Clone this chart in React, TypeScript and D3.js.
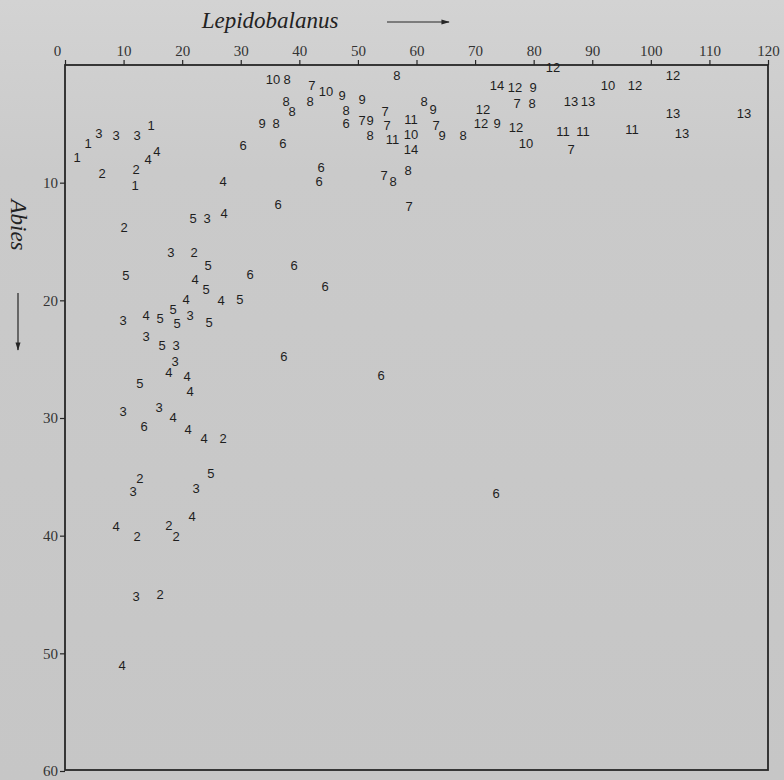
import React, { useEffect, useRef } from "react";
import * as d3 from "d3";

// [Lepidobalanus, Abies] for each sample, grouped by the printed label
const group1 = [[2.05, 7.9], [3.93, 6.71], [14.68, 5.18], [11.95, 10.2]];
const group2 = [[6.32, 9.18], [12.12, 8.92], [10.07, 13.85], [22.02, 15.97], [26.97, 31.78], [12.8, 35.17], [12.29, 40.1], [17.75, 39.17], [18.95, 40.1], [16.22, 45.03]];
const group3 = [[5.8, 5.78], [8.71, 6.03], [12.29, 5.95], [24.24, 13.08], [18.09, 15.97], [21.34, 21.33], [9.9, 21.75], [13.83, 23.11], [18.95, 23.87], [18.78, 25.23], [9.9, 29.48], [16.05, 29.14], [11.61, 36.28], [22.36, 36.02], [12.12, 45.2]];
const group4 = [[15.7, 7.39], [14.17, 7.99], [26.97, 9.94], [27.14, 12.66], [22.19, 18.27], [20.66, 19.97], [26.63, 20.05], [13.83, 21.33], [17.75, 26.17], [20.83, 26.51], [21.34, 27.78], [18.44, 29.99], [21.0, 31.01], [23.73, 31.78], [21.68, 38.4], [8.71, 39.25], [9.73, 51.06]];
const group5 = [[21.85, 13.08], [24.41, 17.08], [10.41, 17.93], [24.07, 19.12], [29.87, 19.97], [18.44, 20.82], [16.22, 21.58], [19.12, 22.0], [24.58, 21.92], [16.56, 23.87], [12.8, 27.1], [24.92, 34.75]];
const group6 = [[30.39, 6.8], [37.2, 6.71], [43.7, 8.75], [43.36, 9.94], [47.97, 5.0], [36.36, 11.89], [31.58, 17.84], [39.09, 17.08], [44.38, 18.86], [37.38, 24.81], [53.94, 26.42], [13.49, 30.76], [73.57, 36.45]];
const group7 = [[54.46, 9.35], [42.16, 1.78], [50.7, 4.72], [54.63, 3.95], [54.97, 5.1], [63.33, 5.1], [77.16, 3.31], [86.38, 7.14], [58.72, 12.06]];
const group8 = [[55.99, 9.94], [58.55, 9.0], [37.9, 1.19], [41.82, 3.14], [37.73, 3.14], [38.75, 3.99], [47.97, 3.85], [36.02, 4.93], [52.07, 6.0], [56.67, 0.93], [61.28, 3.06], [67.94, 6.03], [79.72, 3.31]];
const group9 = [[47.29, 2.63], [50.7, 2.89], [33.63, 4.93], [52.07, 4.72], [62.82, 3.82], [64.36, 6.03], [73.75, 4.93], [79.89, 1.95]];
const group10 = [[35.5, 1.19], [44.55, 2.21], [59.07, 5.9], [78.7, 6.71], [92.69, 1.78]];
const group11 = [[55.9, 6.3], [59.07, 4.62], [85.01, 5.61], [88.43, 5.61], [96.79, 5.44]];
const group12 = [[71.36, 3.75], [71.01, 4.98], [76.99, 5.35], [76.82, 1.95], [83.3, 0.17], [97.3, 1.78], [103.79, 0.93]];
const group13 = [[86.38, 3.06], [89.28, 3.06], [103.79, 4.08], [105.33, 5.78], [115.91, 4.08]];
const group14 = [[59.07, 7.2], [73.75, 1.78]];

const groups = [group1, group2, group3, group4, group5, group6, group7, group8, group9, group10, group11, group12, group13, group14];

const xTicks = [0, 10, 20, 30, 40, 50, 60, 70, 80, 90, 100, 110, 120];
const yTicks = [10, 20, 30, 40, 50, 60];

const App = () => {
  const svgRef = useRef(null);

  useEffect(() => {
    document.body.style.margin = "0";
    const svg = d3.select(svgRef.current);
    svg.selectAll("*").remove();

    const width = 784;
    const height = 780;
    const x = d3.scaleLinear().domain([0, 120]).range([65, 768]);
    const y = d3.scaleLinear().domain([0, 60]).range([65, 771]);
    const ink = "#262626";
    const serif = "'Liberation Serif', 'DejaVu Serif', serif";

    const defs = svg.append("defs");
    const grad = defs
      .append("linearGradient")
      .attr("id", "paper")
      .attr("x1", 0)
      .attr("y1", 0)
      .attr("x2", 0)
      .attr("y2", 1);
    grad.append("stop").attr("offset", "0%").attr("stop-color", "#d3d3d3");
    grad.append("stop").attr("offset", "22%").attr("stop-color", "#cacaca");
    grad.append("stop").attr("offset", "100%").attr("stop-color", "#c6c6c6");

    defs
      .append("marker")
      .attr("id", "head")
      .attr("viewBox", "0 0 10 10")
      .attr("refX", 9)
      .attr("refY", 5)
      .attr("markerWidth", 7)
      .attr("markerHeight", 7)
      .attr("orient", "auto")
      .append("path")
      .attr("d", "M0,2 L10,5 L0,8 Z")
      .attr("fill", ink);

    svg.append("rect").attr("width", width).attr("height", height).attr("fill", "url(#paper)");

    // frame
    svg
      .append("rect")
      .attr("x", x(0))
      .attr("y", y(0))
      .attr("width", x(120) - x(0))
      .attr("height", y(60) - y(0) - 1)
      .attr("fill", "none")
      .attr("stroke", ink)
      .attr("stroke-width", 1.8);

    // top axis
    const top = svg
      .append("g")
      .attr("transform", `translate(0,${y(0)})`)
      .call(d3.axisTop(x).tickValues(xTicks).tickSize(5).tickPadding(4).tickFormat(d3.format("d")));
    top.select(".domain").remove();
    top.selectAll("line").attr("stroke", ink).attr("stroke-width", 1.2);
    top
      .selectAll("text")
      .attr("fill", "#333")
      .style("font-family", serif)
      .style("font-size", "15px")
      .attr("dx", (d) => (d === 0 ? -8 : 0));

    // left axis
    const left = svg
      .append("g")
      .attr("transform", `translate(${x(0)},0)`)
      .call(d3.axisLeft(y).tickValues(yTicks).tickSize(5).tickPadding(2).tickFormat(d3.format("d")));
    left.select(".domain").remove();
    left.selectAll("line").attr("stroke", ink).attr("stroke-width", 1.2);
    left
      .selectAll("text")
      .attr("fill", "#333")
      .style("font-family", serif)
      .style("font-size", "15px");

    // axis titles with arrows
    svg
      .append("text")
      .attr("x", 270)
      .attr("y", 28)
      .attr("text-anchor", "middle")
      .attr("fill", "#222")
      .style("font-family", serif)
      .style("font-style", "italic")
      .style("font-size", "23px")
      .text("Lepidobalanus");

    svg
      .append("line")
      .attr("x1", 387)
      .attr("y1", 22)
      .attr("x2", 449)
      .attr("y2", 22)
      .attr("stroke", ink)
      .attr("stroke-width", 1.2)
      .attr("marker-end", "url(#head)");

    svg
      .append("text")
      .attr("transform", "translate(11,225) rotate(90)")
      .attr("text-anchor", "middle")
      .attr("fill", "#222")
      .style("font-family", serif)
      .style("font-style", "italic")
      .style("font-size", "23px")
      .text("Abies");

    svg
      .append("line")
      .attr("x1", 18)
      .attr("y1", 293)
      .attr("x2", 18)
      .attr("y2", 350)
      .attr("stroke", ink)
      .attr("stroke-width", 1.2)
      .attr("marker-end", "url(#head)");

    // samples, labelled with their group number
    const points = groups.flatMap((pts, i) => pts.map(([lx, ay]) => ({ label: String(i + 1), lx, ay })));

    svg
      .append("g")
      .selectAll("text")
      .data(points)
      .enter()
      .append("text")
      .attr("x", (d) => x(d.lx))
      .attr("y", (d) => y(d.ay))
      .attr("text-anchor", "middle")
      .attr("dominant-baseline", "central")
      .attr("fill", "#1e1e1e")
      .style("font-family", "'Liberation Sans Narrow', 'Liberation Sans', sans-serif")
      .style("font-size", "13px")
      .text((d) => d.label);
  }, []);

  return <svg ref={svgRef} width={784} height={780} style={{ display: "block" }}></svg>;
};

export default App;
